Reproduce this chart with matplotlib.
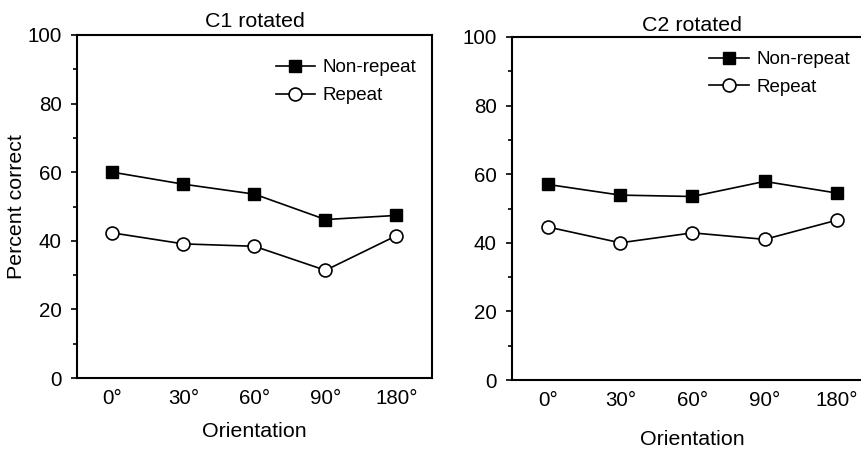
import matplotlib
matplotlib.use('Agg')
import matplotlib.pyplot as plt
from matplotlib.ticker import MultipleLocator

plt.rcParams['font.family'] = ['Liberation Sans', 'DejaVu Sans']

# Data
orientations = ['0°', '30°', '60°', '90°', '180°']
c1_nonrepeat = [60.0, 56.5, 53.6, 46.2, 47.4]
c1_repeat = [42.3, 39.1, 38.4, 31.4, 41.5]
c2_nonrepeat = [57.0, 53.9, 53.5, 57.9, 54.5]
c2_repeat = [44.6, 40.0, 42.9, 41.0, 46.6]

fig = plt.figure(figsize=(8.62, 4.5), dpi=100)

W, H = 862.0, 450.0
# axes rectangles in pixels -> figure fractions
ax1 = fig.add_axes([77 / W, (H - 378) / H, 355 / W, 343 / H])
ax2 = fig.add_axes([512 / W, (H - 380) / H, 361 / W, 343 / H])


def draw_panel(ax, nonrepeat, repeat, title, legend_anchor, title_pad, xlabel_pad):
    x = list(range(len(orientations)))
    ax.plot(x, nonrepeat, color='black', lw=1.2, marker='s', ms=8.6,
            mfc='black', mec='black', label='Non-repeat', clip_on=False)
    ax.plot(x, repeat, color='black', lw=1.2, marker='o', ms=9.3,
            mfc='white', mec='black', mew=1.2, label='Repeat', clip_on=False)

    ax.set_xlim(-0.5, 4.5)
    ax.set_ylim(0, 100)
    ax.set_xticks(x)
    ax.set_xticklabels(orientations)
    ax.yaxis.set_major_locator(MultipleLocator(20))
    ax.yaxis.set_minor_locator(MultipleLocator(10))
    ax.tick_params(axis='x', length=0, pad=8, labelsize=14.8)
    ax.tick_params(axis='y', which='major', direction='out', length=4,
                   width=1.2, pad=7, labelsize=14.8)
    ax.tick_params(axis='y', which='minor', direction='out', length=3,
                   width=1.2)
    for s in ax.spines.values():
        s.set_linewidth(1.5)

    ax.set_title(title, fontsize=15.4, pad=title_pad)
    ax.set_xlabel('Orientation', fontsize=15.4, labelpad=xlabel_pad)
    ax.legend(loc='upper right', bbox_to_anchor=legend_anchor,
              frameon=False, fontsize=13.5, handlelength=2.1,
              handletextpad=0.4, labelspacing=0.57, borderaxespad=0)


draw_panel(ax1, c1_nonrepeat, c1_repeat, 'C1 rotated', (0.977, 0.951), 6, 10)
draw_panel(ax2, c2_nonrepeat, c2_repeat, 'C2 rotated', (0.957, 0.981), 4, 14)
ax1.set_ylabel('Percent correct', fontsize=15.4, labelpad=1)

fig.savefig('out.png', dpi=100)
